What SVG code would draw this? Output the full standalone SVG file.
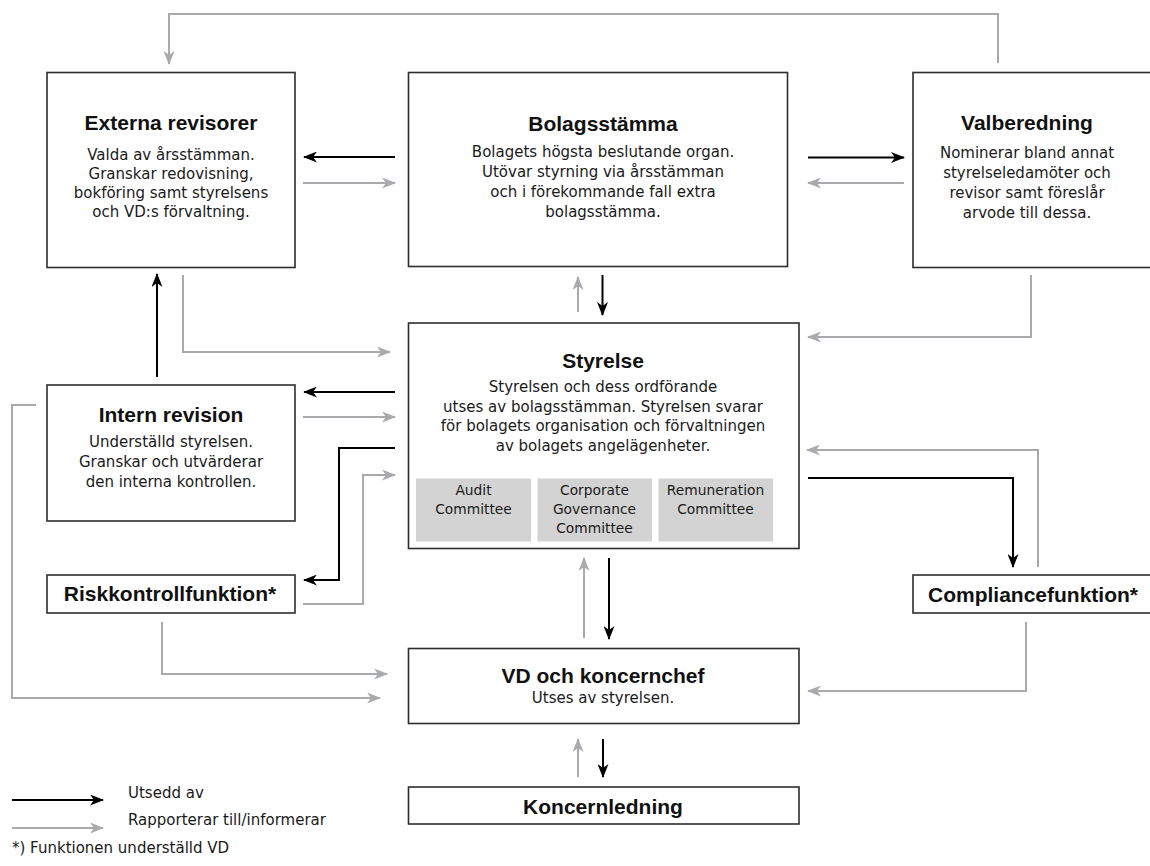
<svg xmlns="http://www.w3.org/2000/svg" width="1150" height="866" viewBox="0 0 1150 866">
<style>
.box{fill:#fff;stroke:#2e2e2e;stroke-width:1.6}
.cm{fill:#d3d3d3;stroke:none}
.t{font-family:"Liberation Sans",Arial,sans-serif;font-weight:bold;font-size:21px;fill:#111;text-anchor:middle}
.b{font-family:"DejaVu Sans","Liberation Sans",sans-serif;font-size:15px;fill:#1a1a1a;text-anchor:middle}
.c{font-family:"DejaVu Sans","Liberation Sans",sans-serif;font-size:13.8px;fill:#1a1a1a;text-anchor:middle}
.l{font-family:"DejaVu Sans","Liberation Sans",sans-serif;font-size:15px;fill:#1a1a1a}
.k{fill:none;stroke:#000;stroke-width:2;marker-end:url(#ak)}
.g{fill:none;stroke:#a9aaad;stroke-width:2;marker-end:url(#ag)}
</style>
<defs>
<marker id="ak" viewBox="0 0 14 11" refX="13" refY="5.5" markerWidth="14" markerHeight="11" markerUnits="userSpaceOnUse" orient="auto"><path d="M0,0 L14,5.5 L0,11 L4,5.5 Z" fill="#000"/></marker>
<marker id="ag" viewBox="0 0 14 11" refX="13" refY="5.5" markerWidth="14" markerHeight="11" markerUnits="userSpaceOnUse" orient="auto"><path d="M0,0 L14,5.5 L0,11 L4,5.5 Z" fill="#a9aaad"/></marker>
</defs>
<rect width="1150" height="866" fill="#fff"/>

<g id="connectors">
<path class="g" d="M998,63 V14 H169 V64"/>
<path class="k" d="M395,157 H304"/>
<path class="g" d="M303,183 H395"/>
<path class="k" d="M808,157.5 H904"/>
<path class="g" d="M904,183 H808"/>
<path class="g" d="M578,312 V277"/>
<path class="k" d="M602.5,275 V315"/>
<path class="k" d="M157,377 V274"/>
<path class="g" d="M183,275 V352 H390"/>
<path class="g" d="M1031,275 V337 H808"/>
<path class="k" d="M395,392 H304"/>
<path class="g" d="M303,417 H395"/>
<path class="k" d="M395,448 H339 V580 H304"/>
<path class="g" d="M303,604 H363 V475 H395"/>
<path class="g" d="M1038,567 V450 H807"/>
<path class="k" d="M808,478 H1013 V567"/>
<path class="g" d="M36,405 H12 V698 H380"/>
<path class="g" d="M162,622 V674 H387"/>
<path class="g" d="M1026,622 V691 H808"/>
<path class="g" d="M584,638 V558"/>
<path class="k" d="M609,558 V639"/>
<path class="g" d="M578,777 V739"/>
<path class="k" d="M603,739 V777"/>
</g>

<g id="externa">
<rect class="box" x="47" y="72.5" width="248" height="195"/>
<text class="t" x="171" y="130">Externa revisorer</text>
<text class="b" x="171" y="160">Valda av årsstämman.</text>
<text class="b" x="171" y="179">Granskar redovisning,</text>
<text class="b" x="171" y="198">bokföring samt styrelsens</text>
<text class="b" x="171" y="217">och VD:s förvaltning.</text>
</g>

<g id="bolagsstamma">
<rect class="box" x="408.5" y="72.5" width="379" height="194"/>
<text class="t" x="603" y="131">Bolagsstämma</text>
<text class="b" x="603" y="157">Bolagets högsta beslutande organ.</text>
<text class="b" x="603" y="177">Utövar styrning via årsstämman</text>
<text class="b" x="603" y="197">och i förekommande fall extra</text>
<text class="b" x="603" y="217">bolagsstämma.</text>
</g>

<g id="valberedning">
<rect class="box" x="913" y="72.5" width="240" height="195"/>
<text class="t" x="1027" y="130">Valberedning</text>
<text class="b" x="1027" y="158">Nominerar bland annat</text>
<text class="b" x="1027" y="178">styrelseledamöter och</text>
<text class="b" x="1027" y="198">revisor samt föreslår</text>
<text class="b" x="1027" y="218">arvode till dessa.</text>
</g>

<g id="styrelse">
<rect class="box" x="408.5" y="323" width="390.5" height="225.5"/>
<text class="t" x="603" y="368">Styrelse</text>
<text class="b" x="603" y="392">Styrelsen och dess ordförande</text>
<text class="b" x="603" y="411.5">utses av bolagsstämman. Styrelsen svarar</text>
<text class="b" x="603" y="431">för bolagets organisation och förvaltningen</text>
<text class="b" x="603" y="450.5">av bolagets angelägenheter.</text>
<rect class="cm" x="416" y="478.5" width="115" height="63"/>
<rect class="cm" x="537.5" y="478.5" width="114.5" height="63"/>
<rect class="cm" x="658.5" y="478.5" width="114.5" height="63"/>
<text class="c" x="473.5" y="494.5">Audit</text>
<text class="c" x="473.5" y="514">Committee</text>
<text class="c" x="594.5" y="494.5">Corporate</text>
<text class="c" x="594.5" y="514">Governance</text>
<text class="c" x="594.5" y="533">Committee</text>
<text class="c" x="715.5" y="494.5">Remuneration</text>
<text class="c" x="715.5" y="514">Committee</text>
</g>

<g id="intern">
<rect class="box" x="47" y="385" width="248" height="136"/>
<text class="t" x="171" y="422">Intern revision</text>
<text class="b" x="171" y="447">Underställd styrelsen.</text>
<text class="b" x="171" y="467">Granskar och utvärderar</text>
<text class="b" x="171" y="487">den interna kontrollen.</text>
</g>

<g id="risk">
<rect class="box" x="47" y="575" width="248" height="38"/>
<text class="t" x="170" y="601">Riskkontrollfunktion*</text>
</g>

<g id="compliance">
<rect class="box" x="913" y="575" width="240" height="38"/>
<text class="t" x="1033" y="601.5">Compliancefunktion*</text>
</g>

<g id="vd">
<rect class="box" x="408.5" y="648.5" width="390.5" height="75"/>
<text class="t" x="603" y="683">VD och koncernchef</text>
<text class="b" x="603" y="703">Utses av styrelsen.</text>
</g>

<g id="koncernledning">
<rect class="box" x="408.5" y="787" width="390.5" height="37"/>
<text class="t" x="603" y="813.5">Koncernledning</text>
</g>

<g id="legend">
<path class="k" d="M12,800 H103"/>
<path class="g" d="M12,828 H103"/>
<text class="l" x="128" y="798">Utsedd av</text>
<text class="l" x="128" y="825">Rapporterar till/informerar</text>
<text class="l" x="12" y="853">*) Funktionen underställd VD</text>
</g>
</svg>
